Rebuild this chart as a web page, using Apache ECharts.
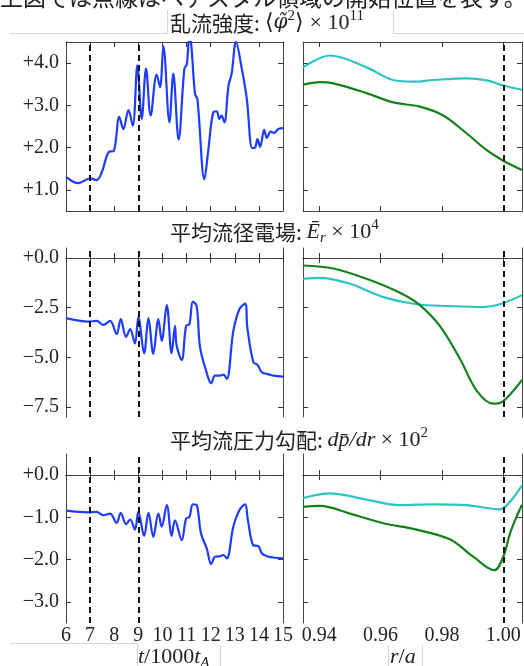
<!DOCTYPE html>
<html>
<head>
<meta charset="utf-8">
<style>
  html, body { margin: 0; padding: 0; background: #fff; }
  #main { width: 524px; height: 666px; }
</style>
<script src="https://cdn.jsdelivr.net/npm/echarts@6/dist/echarts.min.js"></script>
</head>
<body>
<div id="main"></div>
<script>
// time traces (left column)
var phiT = [6.0, 6.51, 7.0, 7.27, 7.48, 7.76, 7.99, 8.21, 8.38, 8.59, 8.77, 8.96, 9.14, 9.32, 9.51, 9.76, 9.9, 10.04, 10.29, 10.45, 10.67, 10.91, 11.01, 11.12, 11.2, 11.35, 11.45, 11.74, 11.9, 12.11, 12.25, 12.36, 12.45, 12.57, 12.74, 12.87, 13.05, 13.29, 13.5, 13.72, 13.84, 13.94, 14.05, 14.22, 14.33, 14.49, 14.63, 14.81, 15.0]
var phiV = [1.31, 1.16, 1.27, 1.23, 1.41, 1.89, 1.93, 2.73, 2.44, 2.89, 2.52, 3.95, 2.68, 3.87, 2.76, 3.73, 3.43, 4.4, 2.6, 3.75, 2.19, 3.87, 3.97, 4.65, 4.4, 3.27, 3.15, 1.25, 1.93, 2.84, 2.86, 2.68, 2.76, 2.6, 3.47, 3.75, 4.5, 3.87, 3.15, 1.99, 2.0, 2.2, 2.02, 2.42, 2.23, 2.38, 2.35, 2.44, 2.46]

var erT = [6.0, 6.93, 7.27, 7.55, 7.83, 8.1, 8.27, 8.49, 8.66, 8.86, 9.0, 9.24, 9.42, 9.62, 9.83, 9.97, 10.18, 10.38, 10.52, 10.59, 10.8, 10.98, 11.12, 11.26, 11.42, 11.56, 11.81, 12.02, 12.18, 12.39, 12.53, 12.67, 12.94, 13.19, 13.43, 13.52, 13.77, 13.94, 14.12, 14.33, 14.6, 15.0]
var erV = [-3.03, -3.2, -3.17, -3.37, -3.17, -3.83, -3.08, -3.97, -3.58, -4.3, -2.97, -4.8, -3.03, -4.83, -3.08, -4.17, -2.37, -4.8, -3.42, -4.42, -5.13, -3.42, -3.33, -2.2, -2.42, -4.5, -5.67, -6.3, -5.92, -5.92, -5.87, -6.08, -3.67, -2.58, -2.3, -3.5, -5.25, -5.37, -5.75, -5.83, -5.92, -5.97]

var dpT = [6.0, 6.93, 7.27, 7.55, 7.83, 8.1, 8.27, 8.49, 8.66, 8.86, 9.0, 9.24, 9.42, 9.62, 9.83, 9.97, 10.18, 10.38, 10.52, 10.8, 10.98, 11.12, 11.26, 11.42, 11.6, 11.84, 12.02, 12.18, 12.39, 12.53, 12.67, 12.94, 13.19, 13.43, 13.54, 13.77, 13.98, 14.12, 14.33, 14.6, 15.0]
var dpV = [-0.84, -0.88, -0.87, -0.95, -0.91, -1.13, -0.89, -1.16, -1.05, -1.29, -0.87, -1.44, -0.89, -1.46, -0.91, -1.22, -0.71, -1.44, -1.07, -1.54, -1.03, -0.99, -0.69, -0.71, -1.38, -1.74, -2.11, -1.93, -1.92, -1.89, -1.97, -1.22, -0.83, -0.69, -1.05, -1.66, -1.68, -1.85, -1.92, -1.95, -1.97]

// radial profiles (right column)
var phiCyanR = [0.9347, 0.9435, 0.9554, 0.9641, 0.9707, 0.9772, 0.988, 0.9946, 1.0, 1.0061]
var phiCyanV = [3.9, 4.18, 3.9, 3.6, 3.56, 3.6, 3.64, 3.59, 3.47, 3.37]
var phiGreenR = [0.9347, 0.9402, 0.9446, 0.9554, 0.9641, 0.9728, 0.9804, 0.988, 0.9946, 1.0, 1.0061]
var phiGreenV = [3.49, 3.55, 3.52, 3.29, 3.07, 2.97, 2.76, 2.34, 1.94, 1.69, 1.47]

var erCyanR = [0.9347, 0.9402, 0.95, 0.9609, 0.9717, 0.9826, 0.9935, 0.9989, 1.0061]
var erCyanV = [-1.05, -1.0, -1.3, -1.97, -2.33, -2.42, -2.47, -2.33, -1.87]
var erGreenR = [0.9347, 0.9446, 0.9554, 0.9663, 0.9728, 0.9793, 0.9859, 0.9913, 0.9967, 1.0, 1.0061]
var erGreenV = [-0.38, -0.53, -1.05, -1.75, -2.37, -3.42, -5.08, -6.67, -7.33, -7.2, -6.13]

var dpCyanR = [0.9347, 0.9435, 0.9554, 0.9663, 0.9772, 0.988, 0.9957, 0.9989, 1.0022, 1.0061]
var dpCyanV = [-0.54, -0.43, -0.58, -0.71, -0.69, -0.71, -0.79, -0.81, -0.63, -0.24]
var dpGreenR = [0.9347, 0.9402, 0.95, 0.9609, 0.9717, 0.9826, 0.9902, 0.9971, 1.0, 1.0022, 1.0043, 1.0061]
var dpGreenV = [-0.75, -0.73, -0.91, -1.14, -1.29, -1.52, -1.93, -2.25, -1.93, -1.38, -0.99, -0.7]

// axes
var tTicks = [6, 7, 8, 9, 10, 11, 12, 13, 14, 15]
var rTicks = [0.94, 0.96, 0.98, 1.0]
var yTicks = [[1, 2, 3, 4], [0, -2.5, -5, -7.5], [0, -1, -2, -3]]
var yRange = [[0.5, 4.5], [-8, 0.5], [-3.5, 0.5]]
var tMarks = [7, 9]
var rMarks = [1.0]

var serif = '"Liberation Serif", serif'
var ink = '#222'

function zip(a, b) {
  return a.map(function (v, i) { return [v, b[i]] })
}

function fmtY(v) {
  return (v >= 0 ? '+' : '\u2212') + Math.abs(v).toFixed(1)
}

var grids = []
var xAxes = []
var yAxes = []
var series = []
var tops = [42, 248, 454]

for (var row = 0; row < 3; row++) {
  for (var col = 0; col < 2; col++) {
    var g = grids.length
    grids.push(col === 0
      ? { left: 66, top: tops[row], width: 217, height: 169 }
      : { left: 303, top: tops[row], width: 219, height: 169 })
    var isT = col === 0
    var xBase = {
      type: 'value', gridIndex: g,
      min: isT ? 6 : 0.9347, max: isT ? 15 : 1.0061,
      splitLine: { show: false },
      axisLine: { show: true, lineStyle: { color: '#444', width: 1 } },
      axisTick: { show: true, inside: true, length: 5, lineStyle: { color: '#333' },
        customValues: isT ? tTicks : rTicks },
      axisLabel: { show: false }
    }
    var xb = echarts.util.merge({}, xBase, true)
    xb.position = 'bottom'
    if (row === 2) {
      xb.axisLabel = {
        show: true, customValues: isT ? tTicks : rTicks, margin: 3,
        fontFamily: serif, fontSize: 20, color: ink,
        formatter: isT ? function (v) { return String(Math.round(v)) } : function (v) { return v.toFixed(2) }
      }
    }
    var xt = echarts.util.merge({}, xBase, true)
    xt.position = 'top'
    xAxes.push(xb, xt)

    var yBase = {
      type: 'value', gridIndex: g,
      min: yRange[row][0], max: yRange[row][1],
      splitLine: { show: false },
      axisLine: { show: true, lineStyle: { color: '#444', width: 1 } },
      axisTick: { show: true, inside: true, length: 5, lineStyle: { color: '#333' },
        customValues: yTicks[row] },
      axisLabel: { show: false }
    }
    var yl = echarts.util.merge({}, yBase, true)
    yl.position = 'left'
    if (col === 0) {
      yl.axisLabel = {
        show: true, customValues: yTicks[row], margin: 7,
        fontFamily: serif, fontSize: 20, color: ink, formatter: fmtY
      }
    }
    var yr = echarts.util.merge({}, yBase, true)
    yr.position = 'right'
    yAxes.push(yl, yr)
  }
}

function trace(g, data, color, marks) {
  var s = {
    type: 'line', xAxisIndex: 2 * g, yAxisIndex: 2 * g,
    data: data, showSymbol: false, smooth: 0.35, clip: true,
    lineStyle: { color: color, width: 2.2 }, itemStyle: { color: color },
    silent: true, z: 3
  }
  if (marks) {
    s.markLine = {
      silent: true, symbol: 'none', label: { show: false },
      lineStyle: { type: [6, 4], color: '#111', width: 2 },
      data: marks.map(function (m) { return { xAxis: m } })
    }
  }
  return s
}

var blue = '#1e3cff'
var cyan = '#2cc3c3'
var green = '#13801a'

series.push(
  trace(0, zip(phiT, phiV), blue, tMarks),
  trace(1, zip(phiCyanR, phiCyanV), cyan, rMarks),
  trace(1, zip(phiGreenR, phiGreenV), green),
  trace(2, zip(erT, erV), blue, tMarks),
  trace(3, zip(erCyanR, erCyanV), cyan, rMarks),
  trace(3, zip(erGreenR, erGreenV), green),
  trace(4, zip(dpT, dpV), blue, tMarks),
  trace(5, zip(dpCyanR, dpCyanV), cyan, rMarks),
  trace(5, zip(dpGreenR, dpGreenV), green)
)

var base = { color: ink, fontWeight: 'normal' }
var rich = {
  cj: Object.assign({ fontFamily: 'Noto Sans CJK JP', fontSize: 21, lineHeight: 28, verticalAlign: 'middle' }, base),
  m: Object.assign({ fontFamily: serif, fontSize: 22, lineHeight: 28, verticalAlign: 'middle' }, base),
  mi: Object.assign({ fontFamily: serif, fontStyle: 'italic', fontSize: 22, lineHeight: 28, verticalAlign: 'middle' }, base),
  phi: Object.assign({ fontFamily: 'DejaVu Serif', fontStyle: 'italic', fontSize: 20, lineHeight: 28, verticalAlign: 'middle' }, base),
  sup: Object.assign({ fontFamily: serif, fontSize: 15, lineHeight: 15, verticalAlign: 'top' }, base),
  sub: Object.assign({ fontFamily: serif, fontStyle: 'italic', fontSize: 15, lineHeight: 15, verticalAlign: 'bottom' }, base)
}

function label(text, left, top) {
  return { text: text, left: left, top: top, padding: 0, textStyle: { fontWeight: 'normal', rich: rich } }
}

var option = {
  animation: false,
  backgroundColor: '#fff',
  grid: grids,
  xAxis: xAxes,
  yAxis: yAxes,
  title: [
    label('{cj|乱流強度: }{m|\u27e8}{phi|\u03c6\u0303}{sup|2}{m|\u27e9 × 10}{sup|11}', 170, 9),
    label('{cj|平均流径電場: }{mi|\u0112}{sub|r}{m| × 10}{sup|4}', 170, 218),
    label('{cj|平均流圧力勾配: }{mi|dp\u0304/dr}{m| × 10}{sup|2}', 170, 426),
    label('{mi|t}{m|/1000}{mi|t}{sub|A}', 138, 643),
    label('{mi|r}{m|/}{mi|a}', 390, 643)
  ],
  graphic: [
    { type: 'text', x: 0, y: -3, silent: true,
      style: { text: '上図では点線はペデスタル領域の開始位置を表す。', fontFamily: 'Noto Sans CJK JP',
        fontSize: 23, fill: ink, verticalAlign: 'middle' } },
    { type: 'polyline', silent: true, shape: { points: [[10, 33.5], [167.5, 33.5], [167.5, 10]] },
      style: { stroke: '#d6d6d6', lineWidth: 1, fill: null } },
    { type: 'polyline', silent: true, shape: { points: [[393.5, 10], [393.5, 33.5], [524, 33.5]] },
      style: { stroke: '#d6d6d6', lineWidth: 1, fill: null } },
    { type: 'polyline', silent: true, shape: { points: [[10, 643.5], [137.5, 643.5], [137.5, 666]] },
      style: { stroke: '#d6d6d6', lineWidth: 1, fill: null } },
    { type: 'line', silent: true, shape: { x1: 220.5, y1: 645, x2: 220.5, y2: 666 },
      style: { stroke: '#d6d6d6', lineWidth: 1 } },
    { type: 'line', silent: true, shape: { x1: 388.5, y1: 645, x2: 388.5, y2: 666 },
      style: { stroke: '#d6d6d6', lineWidth: 1 } },
    { type: 'line', silent: true, shape: { x1: 422.5, y1: 645, x2: 422.5, y2: 666 },
      style: { stroke: '#d6d6d6', lineWidth: 1 } }
  ],
  series: series
}

var myChart = echarts.init(document.getElementById('main'))
myChart.setOption(option)
</script>
</body>
</html>
